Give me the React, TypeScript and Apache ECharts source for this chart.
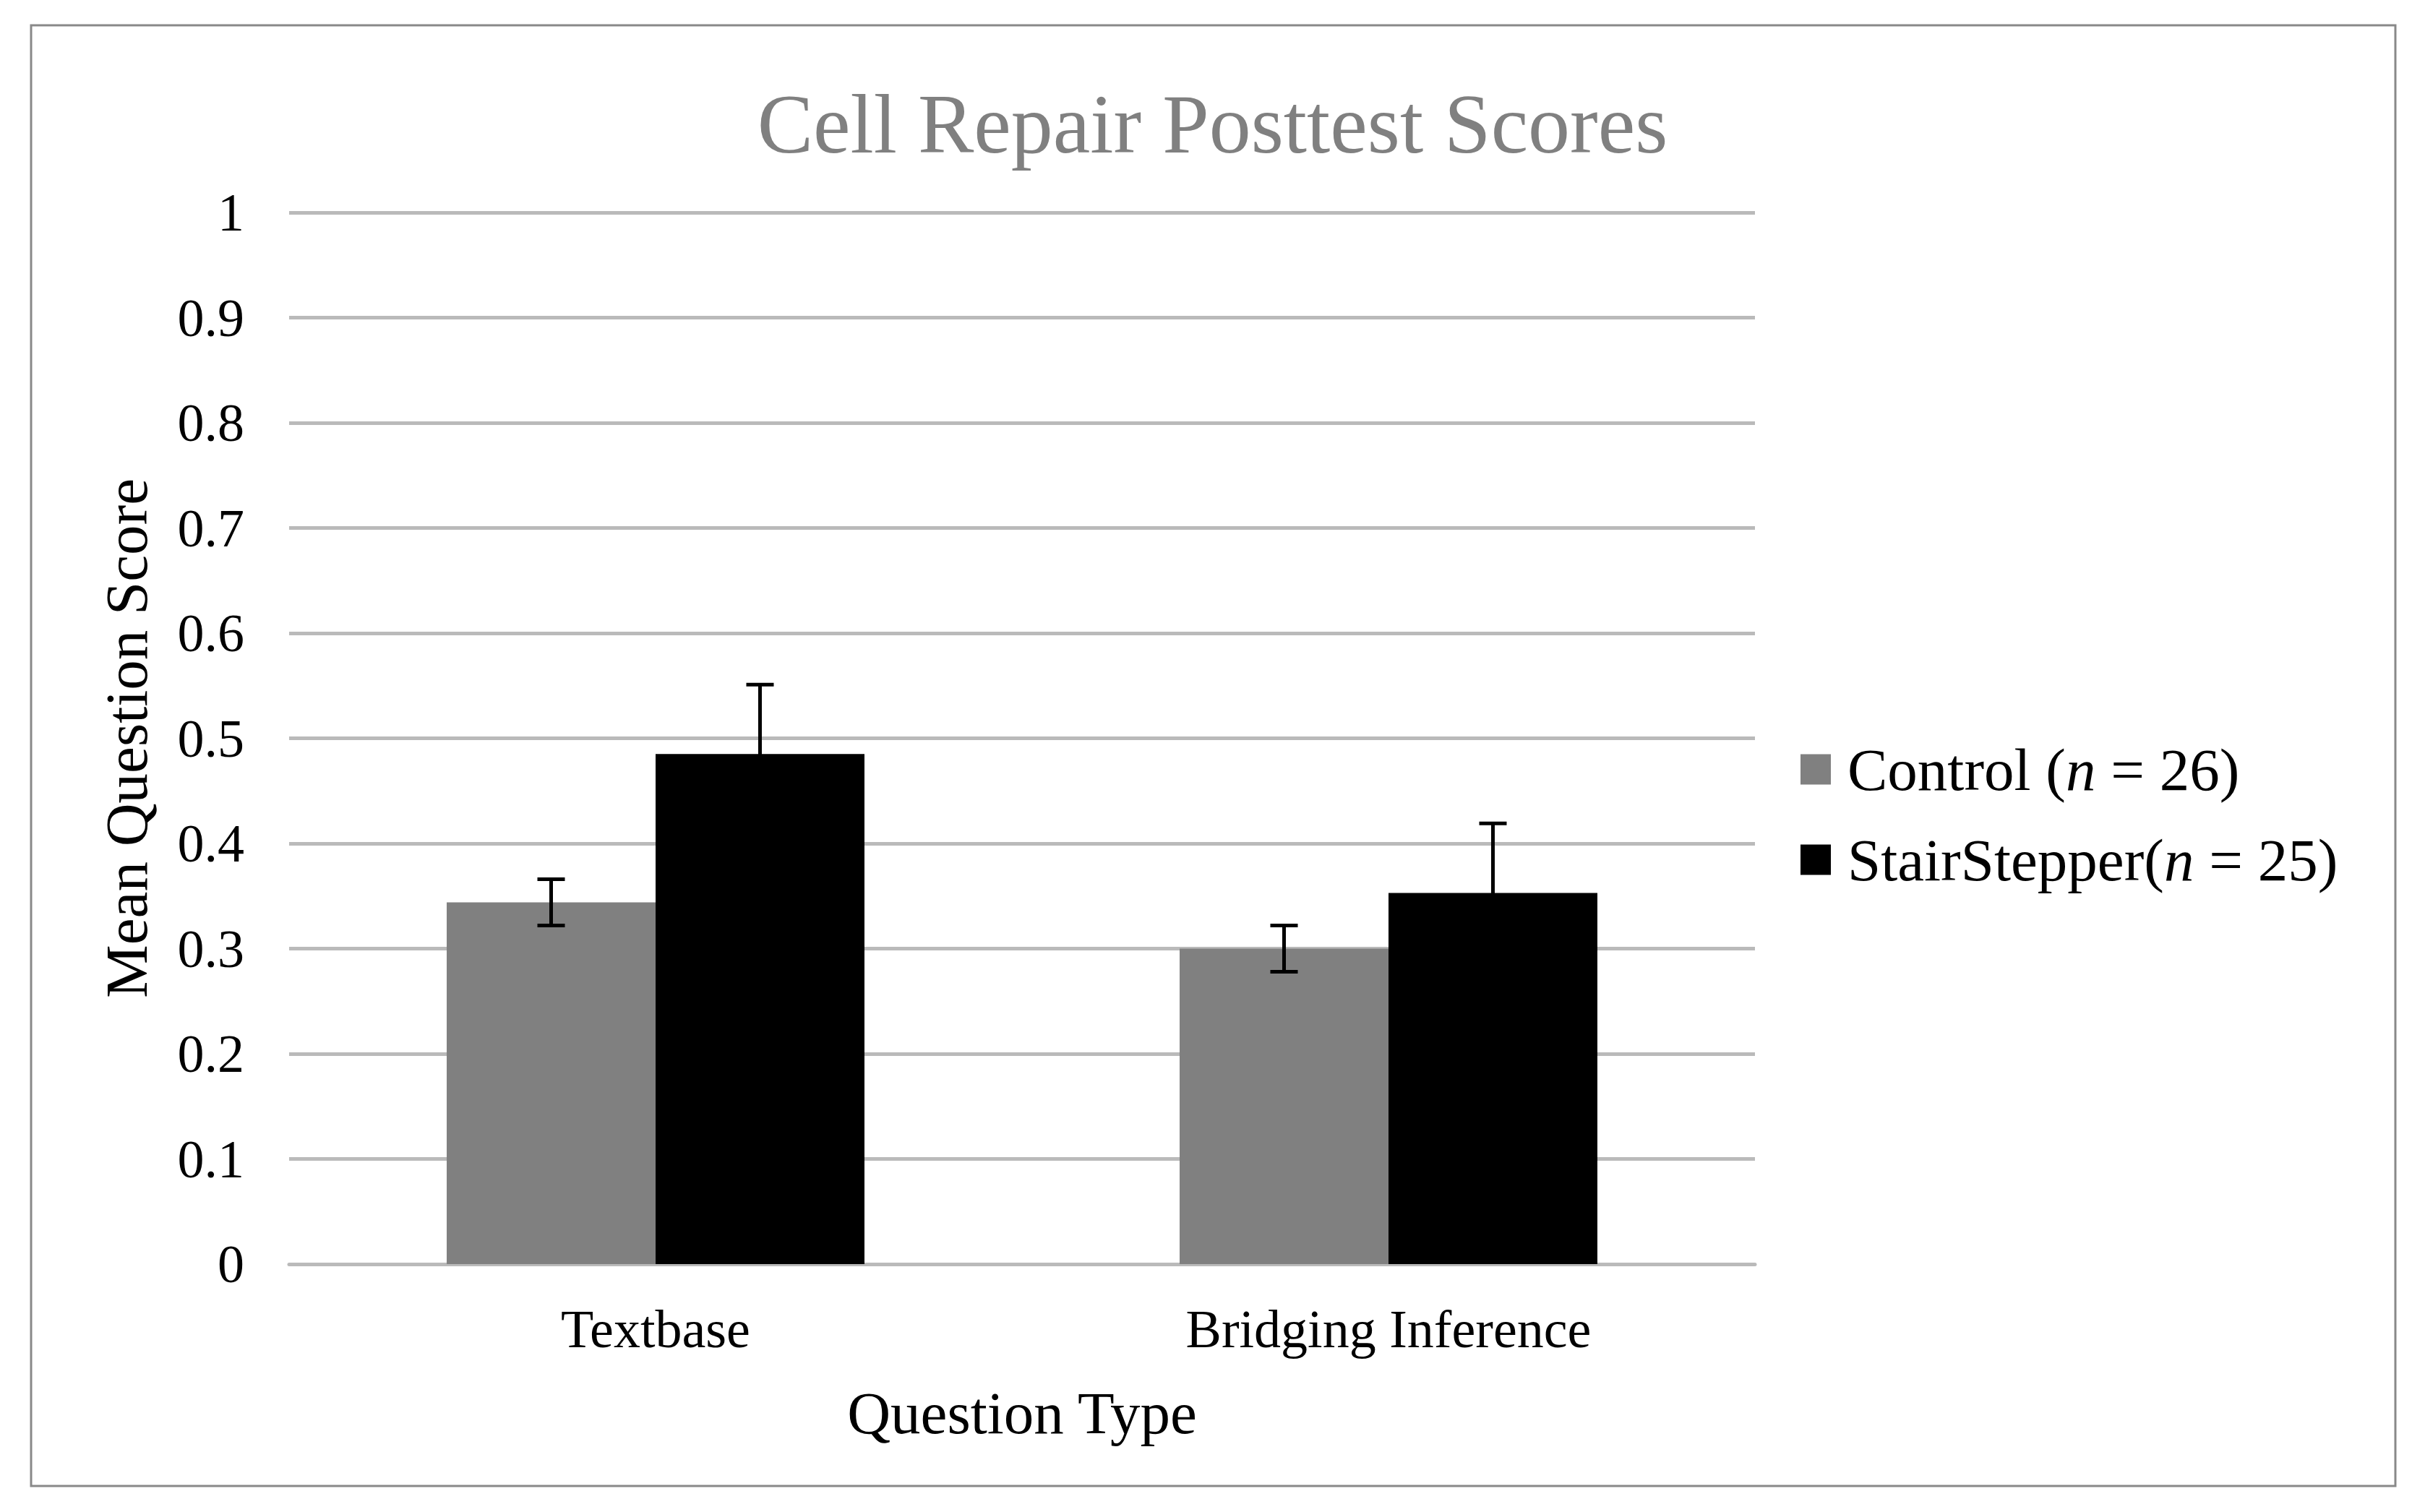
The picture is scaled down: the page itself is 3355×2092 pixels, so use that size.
import React, { useEffect, useRef } from "react";
import * as echarts from "echarts";

const categories = ["Textbase", "Bridging Inference"];
const controlMeans = [0.344, 0.3];
const controlErrors = [0.022, 0.022];
const stairMeans = [0.485, 0.353];
const stairErrors = [0.066, 0.066];
const seriesNames = ["Control", "StairStepper"];
const legendLabels: Record<string, [string, string]> = {
  Control: ["Control (", " = 26)"],
  StairStepper: ["StairStepper(", " = 25)"],
};

const FONT = "'Liberation Serif', 'Times New Roman', serif";
const CATEGORY_GAP = 0.43;

export default function App() {
  const ref = useRef<HTMLDivElement>(null);
  useEffect(() => {
    document.body.style.margin = "0";
    const chart = echarts.init(ref.current!, null, { renderer: "svg" });

    const errorData = (means: number[], errs: number[], side: number) =>
      means.map((m, i) => [i, m, errs[i], side]);

    const renderError = (params: any, api: any) => {
      const cat = api.value(0);
      const mean = api.value(1);
      const err = api.value(2);
      const side = api.value(3);
      const band = api.size([1, 0])[0];
      const barW = (band * (1 - CATEGORY_GAP)) / 2;
      const x = api.coord([cat, 0])[0] + (side * barW) / 2;
      const yHi = api.coord([cat, mean + err])[1];
      const yLo = api.coord([cat, mean - err])[1];
      const cap = 19;
      const style = { stroke: "#000", lineWidth: 5 };
      return {
        type: "group",
        children: [
          { type: "line", shape: { x1: x, y1: yHi, x2: x, y2: yLo }, style },
          { type: "line", shape: { x1: x - cap, y1: yHi, x2: x + cap, y2: yHi }, style },
          { type: "line", shape: { x1: x - cap, y1: yLo, x2: x + cap, y2: yLo }, style },
        ],
      };
    };

    chart.setOption({
      animation: false,
      backgroundColor: "#fff",
      title: {
        text: "Cell Repair Posttest Scores",
        left: "center",
        top: 114,
        padding: 0,
        textStyle: { fontFamily: FONT, fontSize: 116, fontWeight: "normal", color: "#808080" },
      },
      graphic: [
        {
          type: "rect",
          shape: { x: 43, y: 35, width: 3271, height: 2021 },
          style: { fill: "none", stroke: "#898989", lineWidth: 3 },
          silent: true,
          z: -1,
        },
      ],
      legend: {
        data: seriesNames,
        orient: "vertical",
        left: 2491,
        top: 1023,
        padding: 0,
        itemWidth: 42,
        itemHeight: 42,
        itemGap: 42,
        icon: "rect",
        formatter: (name: string) => {
          const [a, b] = legendLabels[name];
          return `{p|}{a|${a}}{i|n}{a|${b}}`;
        },
        textStyle: {
          fontFamily: FONT,
          fontSize: 83,
          color: "#000",
          rich: {
            p: { width: 18, lineHeight: 82 },
            a: { fontFamily: FONT, fontSize: 83, color: "#000", lineHeight: 82 },
            i: { fontFamily: FONT, fontSize: 83, color: "#000", fontStyle: "italic", lineHeight: 82 },
          },
        },
      },
      grid: { left: 400, right: 927, top: 294, bottom: 343 },
      xAxis: {
        type: "category",
        data: categories,
        name: "Question Type",
        nameLocation: "middle",
        nameGap: 164,
        nameTextStyle: { fontFamily: FONT, fontSize: 83, color: "#000" },
        axisLine: { lineStyle: { color: "#bababa", width: 5 } },
        axisTick: { show: false },
        axisLabel: { fontFamily: FONT, fontSize: 74, color: "#000", margin: 53 },
      },
      yAxis: {
        type: "value",
        min: 0,
        max: 1,
        interval: 0.1,
        name: "Mean Question Score",
        nameLocation: "middle",
        nameGap: 184,
        nameTextStyle: { fontFamily: FONT, fontSize: 83, color: "#000" },
        axisLine: { show: false },
        axisTick: { show: false },
        axisLabel: { fontFamily: FONT, fontSize: 74, color: "#000", margin: 62 },
        splitLine: { lineStyle: { color: "#bababa", width: 5 } },
      },
      series: [
        {
          name: "Control",
          type: "bar",
          data: controlMeans,
          barGap: "0%",
          barCategoryGap: `${CATEGORY_GAP * 100}%`,
          itemStyle: { color: "#808080" },
        },
        {
          name: "StairStepper",
          type: "bar",
          data: stairMeans,
          barGap: "0%",
          barCategoryGap: `${CATEGORY_GAP * 100}%`,
          itemStyle: { color: "#000000" },
        },
        {
          name: "ControlError",
          type: "custom",
          renderItem: renderError,
          data: errorData(controlMeans, controlErrors, -1),
          z: 5,
          silent: true,
        },
        {
          name: "StairError",
          type: "custom",
          renderItem: renderError,
          data: errorData(stairMeans, stairErrors, 1),
          z: 5,
          silent: true,
        },
      ],
    });
    return () => chart.dispose();
  }, []);
  return <div ref={ref} style={{ width: 3355, height: 2092 }} />;
}
